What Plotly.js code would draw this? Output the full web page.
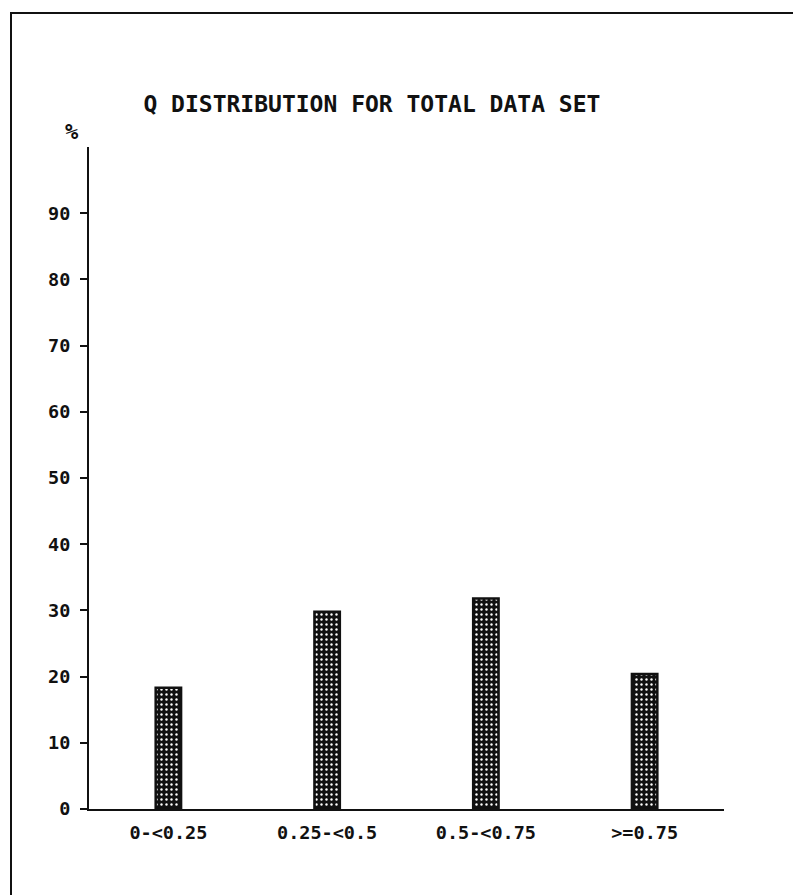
<!DOCTYPE html>
<html>
<head>
<meta charset="utf-8">
<script src="https://cdn.plot.ly/plotly-3.0.1.min.js"></script>
<style>
  html, body { margin: 0; padding: 0; background: #fff; }
  #frame { position: absolute; left: 10px; top: 12px; width: 783px; height: 883px;
           border-left: 2px solid #111; border-top: 2px solid #111; box-sizing: border-box; }
  #chart { position: absolute; left: 0; top: 0; width: 793px; height: 895px; }
</style>
</head>
<body>
<div id="chart"></div>
<div id="frame"></div>
<script>
const categories = ["0-<0.25", "0.25-<0.5", "0.5-<0.75", ">=0.75"];
const percentValues = [18.3, 29.8, 31.8, 20.4];
const yTickValues = [0, 10, 20, 30, 40, 50, 60, 70, 80, 90];
const titleText = "Q DISTRIBUTION FOR TOTAL DATA SET";
const yLabel = "%";

const fontFamily = "'DejaVu Sans Mono', 'Liberation Mono', monospace";

const trace = {
  type: "bar",
  x: categories,
  y: percentValues,
  width: 0.16,
  marker: {
    color: "#111",
    line: { color: "#111", width: 2.5 },
    pattern: { shape: ".", fgcolor: "#ffffff", bgcolor: "#111111", size: 5, solidity: 0.18, fillmode: "replace" }
  },
  hoverinfo: "skip"
};

const layout = {
  width: 793,
  height: 895,
  margin: { l: 89, r: 69, t: 147, b: 86 },
  paper_bgcolor: "#ffffff",
  plot_bgcolor: "#ffffff",
  showlegend: false,
  font: { family: fontFamily, color: "#111", size: 18, weight: "bold" },
  title: {
    text: titleText,
    font: { family: fontFamily, size: 23, color: "#111", weight: "bold" },
    xref: "container", yref: "container",
    x: 0.469, xanchor: "center",
    y: 1 - 104 / 895, yanchor: "middle"
  },
  xaxis: {
    type: "category",
    range: [-0.5, 3.5],
    showline: true, linecolor: "#111", linewidth: 2,
    ticks: "", showgrid: false, zeroline: false,
    tickfont: { family: fontFamily, size: 18.5, color: "#111", weight: "bold" },
    ticklabelstandoff: 6
  },
  yaxis: {
    range: [0, 100],
    tickmode: "array",
    tickvals: yTickValues,
    ticktext: yTickValues.map(String),
    showline: true, linecolor: "#111", linewidth: 2,
    ticks: "outside", ticklen: 7, tickwidth: 2, tickcolor: "#111",
    showgrid: false, zeroline: false,
    tickfont: { family: fontFamily, size: 18.5, color: "#111", weight: "bold" },
    ticklabelstandoff: 6
  },
  annotations: [{
    text: yLabel,
    xref: "paper", yref: "paper",
    x: -0.027, y: 1 + 16 / 662,
    xanchor: "center", yanchor: "middle",
    showarrow: false,
    font: { family: fontFamily, size: 22, color: "#111", weight: "bold" }
  }]
};

Plotly.newPlot("chart", [trace], layout, { staticPlot: true, displayModeBar: false });
</script>
</body>
</html>
